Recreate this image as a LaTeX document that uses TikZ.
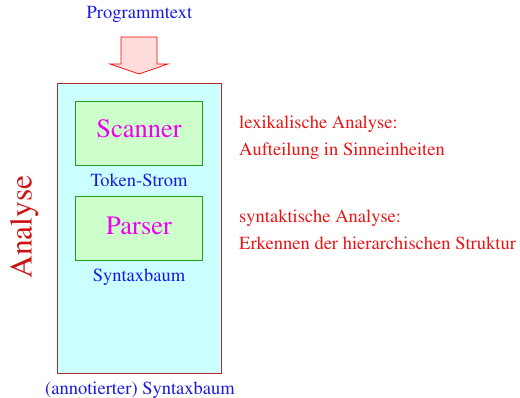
\documentclass[tikz,border=0pt]{standalone}
\usepackage[T1]{fontenc}
\usepackage{times}
\definecolor{txtblue}{RGB}{25,25,225}
\definecolor{txtred}{RGB}{235,20,20}
\definecolor{darkred}{RGB}{205,20,20}
\definecolor{boxborder}{RGB}{185,40,40}
\definecolor{boxfill}{RGB}{204,255,255}
\definecolor{stagefill}{RGB}{204,255,204}
\definecolor{stageborder}{RGB}{30,160,30}
\definecolor{arrowfill}{RGB}{255,220,220}
\definecolor{txtmagenta}{RGB}{240,0,240}
\tikzset{
  every node/.style={inner sep=0pt},
  lbl/.style={text=txtblue, anchor=base, font=\fontsize{18.5}{22}\selectfont},
  note/.style={text=txtred, anchor=base west, font=\fontsize{18.5}{22}\selectfont},
  stage/.style={draw=stageborder, fill=stagefill, line width=0.9pt},
  stagename/.style={text=txtmagenta, anchor=base, font=\fontsize{26.5}{30}\selectfont},
}
\begin{document}
\begin{tikzpicture}[x=1pt,y=-1pt]
\useasboundingbox (0,0) rectangle (520,398);
% outer analysis box
\draw[draw=boxborder, fill=boxfill, line width=0.8pt] (57,83) rectangle (221,373);
% input arrow
\draw[draw=red, fill=arrowfill, line width=0.7pt]
  (121,37) -- (157,37) -- (157,64) -- (168,64) -- (139,74) -- (110,64) -- (121,64) -- cycle;
% stages
\draw[stage] (75.5,101) rectangle (202.5,165);
\draw[stage] (75.5,196) rectangle (202.5,260);
\node[stagename] (scanner) at (139,137.5) {Scanner};
\node[stagename] (parser) at (139,235) {Parser};
% data between stages
\node[lbl] (prog) at (139.5,19) {Programmtext};
\node[lbl] (tokens) at (139,187) {Token-Strom};
\node[lbl] (tree) at (139,282) {Syntaxbaum};
\node[lbl] (atree) at (140,394.5) {(annotierter) Syntaxbaum};
% side label
\node[text=darkred, rotate=90, anchor=base, font=\fontsize{31.5}{36}\selectfont] (analyse) at (31.7,227) {Analyse};
% explanations
\node[note] (lex1) at (239,129) {lexikalische Analyse:};
\node[note] (lex2) at (239,155.5) {Aufteilung in Sinneinheiten};
\node[note] (syn1) at (239,223) {syntaktische Analyse:};
\node[note] (syn2) at (239,250) {Erkennen der hierarchischen Struktur};
\end{tikzpicture}
\end{document}
